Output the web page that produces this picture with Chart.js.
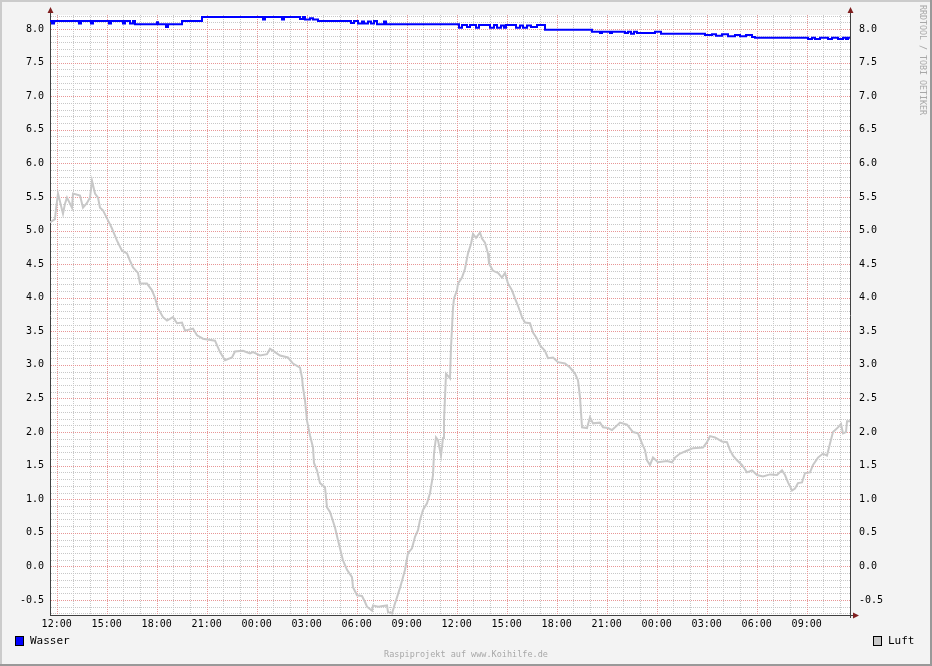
<!DOCTYPE html>
<html>
<head>
<meta charset="utf-8">
<script src="https://cdn.jsdelivr.net/npm/chart.js@4"></script>
<style>
  body { margin: 0; background: #f3f3f3; }
  canvas { display: block; }
</style>
</head>
<body>
<canvas id="rrdChart" width="932" height="666"></canvas>
<script>
// hours relative to 12:00 of the first day
var luftHours = [-0.4,-0.1,-0.04,0.08,0.38,0.5,0.62,0.92,0.98,1.4,1.58,1.82,2.0,2.12,2.3,2.48,2.6,2.78,3.02,3.32,
  3.62,3.92,4.22,4.4,4.58,4.88,5.0,5.42,5.72,5.9,6.08,6.38,6.62,6.98,7.22,7.52,7.7,8.18,8.42,8.78,
  9.5,9.8,10.1,10.52,10.7,11.18,11.6,11.78,12.2,12.62,12.8,13.1,13.4,13.88,14.18,14.6,14.72,14.78,14.9,15.02,
  15.2,15.38,15.44,15.62,15.8,16.1,16.22,16.4,16.7,16.88,17.0,17.18,17.42,17.72,17.78,18.02,18.32,18.5,18.62,18.92,
  18.98,19.28,19.82,19.88,20.12,20.3,20.42,20.6,20.78,20.9,21.08,21.32,21.5,21.68,21.8,21.98,22.22,22.4,22.58,22.64,
  22.76,22.88,23.06,23.18,23.24,23.36,23.6,23.66,23.78,23.84,24.02,24.08,24.32,24.5,24.68,24.86,24.98,25.16,25.4,25.52,
  25.7,25.88,25.94,26.18,26.48,26.72,26.9,27.08,27.32,27.5,27.68,27.92,28.1,28.4,28.58,28.82,29.0,29.3,29.48,29.78,
  30.08,30.5,30.8,31.1,31.28,31.4,31.52,31.82,32.0,32.18,32.6,32.78,33.08,33.32,33.5,33.8,34.22,34.58,34.88,35.12,
  35.3,35.42,35.6,35.78,36.08,36.62,36.92,37.1,37.4,37.88,38.18,38.78,39.02,39.2,39.5,39.92,40.22,40.4,40.58,40.82,
  41.12,41.42,41.72,42.02,42.38,42.8,43.22,43.52,43.7,43.88,44.12,44.3,44.48,44.72,44.9,45.2,45.38,45.68,45.98,46.22,
  46.4,46.58,46.88,47.06,47.18,47.36,47.42,47.6];
var luftValues = [5.12,5.17,5.32,5.55,5.25,5.40,5.49,5.34,5.55,5.52,5.34,5.41,5.49,5.74,5.55,5.49,5.34,5.30,5.18,5.03,
  4.85,4.70,4.66,4.55,4.45,4.37,4.21,4.21,4.11,4.00,3.84,3.71,3.66,3.71,3.62,3.63,3.51,3.54,3.44,3.39,
  3.36,3.19,3.07,3.11,3.20,3.21,3.17,3.19,3.14,3.16,3.24,3.19,3.14,3.11,3.02,2.96,2.81,2.66,2.47,2.17,
  1.95,1.77,1.54,1.43,1.24,1.18,0.88,0.81,0.58,0.39,0.27,0.09,-0.05,-0.16,-0.31,-0.43,-0.44,-0.53,-0.60,-0.66,
  -0.58,-0.60,-0.58,-0.68,-0.70,-0.55,-0.46,-0.32,-0.16,-0.05,0.20,0.27,0.44,0.54,0.69,0.84,0.94,1.09,1.36,1.68,
  1.92,1.88,1.65,1.91,2.17,2.87,2.80,3.26,3.85,3.99,4.11,4.21,4.30,4.43,4.66,4.80,4.95,4.89,4.97,4.88,
  4.82,4.66,4.51,4.40,4.37,4.30,4.37,4.21,4.11,3.99,3.88,3.71,3.63,3.62,3.48,3.39,3.29,3.21,3.10,3.11,
  3.04,3.02,2.96,2.87,2.77,2.52,2.07,2.06,2.22,2.13,2.14,2.07,2.06,2.03,2.07,2.14,2.11,2.00,1.98,1.83,
  1.73,1.58,1.51,1.62,1.55,1.57,1.55,1.62,1.68,1.73,1.76,1.77,1.85,1.94,1.92,1.86,1.85,1.73,1.65,1.58,
  1.51,1.40,1.43,1.36,1.34,1.37,1.36,1.43,1.36,1.25,1.13,1.16,1.24,1.25,1.39,1.40,1.51,1.62,1.68,1.65,
  1.83,2.00,2.07,2.12,1.98,2.00,2.16,2.16];

var wasserHours = [-0.4,-0.28,-0.16,1.34,1.46,2.06,2.18,3.14,3.26,3.98,4.1,4.4,4.58,4.7,6.02,6.08,6.56,6.68,7.52,8.72,
  12.38,12.5,13.52,13.64,14.6,14.78,14.9,15.2,15.38,15.68,17.66,17.84,18.08,18.32,18.44,18.68,18.86,19.04,19.22,19.64,
  19.76,24.14,24.32,24.62,24.8,25.16,25.34,26.0,26.24,26.42,26.66,26.84,26.96,27.56,27.8,27.98,28.22,28.46,28.82,29.3,
  32.12,32.6,32.72,33.2,33.32,34.1,34.28,34.46,34.64,34.82,35.9,36.26,38.9,39.32,39.56,39.92,40.28,40.7,41.0,41.36,
  41.72,41.9,45.08,45.32,45.5,45.8,46.28,46.52,46.88,47.18,47.36,47.48,47.6];
var wasserValues = [8.12,8.08,8.12,8.08,8.12,8.08,8.12,8.08,8.12,8.08,8.12,8.08,8.12,8.07,8.10,8.07,8.03,8.07,8.12,8.18,
  8.14,8.18,8.14,8.18,8.15,8.18,8.14,8.16,8.14,8.12,8.09,8.12,8.08,8.11,8.08,8.11,8.08,8.12,8.07,8.11,
  8.07,8.02,8.06,8.03,8.06,8.02,8.06,8.02,8.06,8.02,8.05,8.02,8.06,8.02,8.05,8.02,8.05,8.03,8.06,7.99,
  7.96,7.94,7.96,7.94,7.96,7.94,7.96,7.93,7.96,7.94,7.96,7.93,7.91,7.92,7.90,7.92,7.89,7.91,7.89,7.91,
  7.88,7.87,7.85,7.87,7.85,7.87,7.85,7.87,7.85,7.87,7.85,7.87,7.87];

var xTickHours = [0,3,6,9,12,15,18,21,24,27,30,33,36,39,42,45];
var yTickValues = [-0.5,0,0.5,1,1.5,2,2.5,3,3.5,4,4.5,5,5.5,6,6.5,7,7.5,8];

var xMin = -0.4, xMax = 47.6;
var yMin = -0.723, yMax = 8.208;

var gridColor = 'rgb(200,200,200)';
var mgridColor = 'rgb(232,150,150)';
var axisColor = '#404040';
var arrowColor = '#7f1f1f';
var monoFont = 'DejaVu Sans Mono';

function toPoints(xs, ys) {
  return xs.map(function (x, i) { return { x: x, y: ys[i] }; });
}

function hourLabel(v) {
  var h = ((12 + v) % 24 + 24) % 24;
  return (h < 10 ? '0' : '') + h + ':00';
}

// rrdtool style dotted grid, positioned with the chart's own scales
var rrdGrid = {
  id: 'rrdGrid',
  beforeDatasetsDraw: function (chart) {
    var c = chart.ctx, a = chart.chartArea;
    var xs = chart.scales.x, ys = chart.scales.y;
    function vline(v) {
      var p = Math.round(xs.getPixelForValue(v)) + 0.5;
      c.moveTo(p, a.top); c.lineTo(p, a.bottom);
    }
    function hline(v) {
      var p = Math.round(ys.getPixelForValue(v)) + 0.5;
      c.moveTo(a.left + 1, p); c.lineTo(a.right, p);
    }
    c.save();
    c.lineWidth = 1;
    c.setLineDash([1, 1]);
    c.strokeStyle = gridColor;
    c.beginPath();
    for (var h = 0; h <= 47; h++) if (h % 3 !== 0) vline(h);
    for (var k = -7; k <= 82; k++) if (k % 5 !== 0) hline(k / 10);
    c.stroke();
    c.strokeStyle = mgridColor;
    c.beginPath();
    xTickHours.forEach(vline);
    yTickValues.forEach(hline);
    c.stroke();
    c.restore();
  }
};

var rrdLook = {
  id: 'rrdLook',
  beforeDraw: function (chart) {
    var c = chart.ctx, a = chart.chartArea;
    c.save();
    c.fillStyle = '#f3f3f3';
    c.fillRect(0, 0, chart.width, chart.height);
    c.fillStyle = '#ffffff';
    c.fillRect(a.left, a.top, a.right - a.left, a.bottom - a.top);
    c.restore();
  },
  afterDraw: function (chart) {
    var c = chart.ctx, a = chart.chartArea;
    c.save();
    // axis extensions
    c.strokeStyle = axisColor;
    c.lineWidth = 1;
    c.beginPath();
    c.moveTo(a.left + 0.5, a.top); c.lineTo(a.left + 0.5, 12);
    c.moveTo(a.right + 0.5, a.top); c.lineTo(a.right + 0.5, 12);
    c.moveTo(a.right, a.bottom + 0.5); c.lineTo(854, a.bottom + 0.5);
    c.moveTo(a.right + 0.5, a.bottom); c.lineTo(a.right + 0.5, a.bottom + 3);
    c.stroke();
    // arrows
    c.fillStyle = arrowColor;
    c.beginPath();
    c.moveTo(a.left + 0.5, 7); c.lineTo(a.left - 2.5, 13); c.lineTo(a.left + 3.5, 13); c.closePath();
    c.moveTo(a.right + 0.5, 7); c.lineTo(a.right - 2.5, 13); c.lineTo(a.right + 3.5, 13); c.closePath();
    c.moveTo(859, a.bottom + 0.5); c.lineTo(853, a.bottom - 2.5); c.lineTo(853, a.bottom + 3.5); c.closePath();
    c.fill();

    // legend
    c.font = '11px ' + monoFont;
    c.textBaseline = 'middle';
    c.textAlign = 'left';
    c.lineWidth = 1;
    c.fillStyle = '#0000ff';
    c.fillRect(15, 636, 9, 10);
    c.strokeStyle = '#000000';
    c.strokeRect(15.5, 636.5, 8, 9);
    c.fillStyle = '#000000';
    c.fillText('Wasser', 30, 641);
    c.fillStyle = '#c8c8c8';
    c.fillRect(873, 636, 9, 10);
    c.strokeRect(873.5, 636.5, 8, 9);
    c.fillStyle = '#000000';
    c.fillText('Luft', 888, 641);

    // footer
    c.font = '8.5px ' + monoFont;
    c.fillStyle = '#a8a8a8';
    c.textAlign = 'center';
    c.fillText('Raspiprojekt auf www.Koihilfe.de', 466, 655);

    // watermark
    c.save();
    c.translate(922, 5);
    c.rotate(Math.PI / 2);
    c.textAlign = 'left';
    c.font = '8.3px ' + monoFont;
    c.fillStyle = '#a8a8a8';
    c.fillText('RRDTOOL / TOBI OETIKER', 0, 0);
    c.restore();

    // frame shading
    c.fillStyle = '#cbcbcb';
    c.fillRect(0, 0, chart.width, 2);
    c.fillRect(0, 0, 2, chart.height);
    c.fillStyle = '#999999';
    c.fillRect(0, chart.height - 2, chart.width, 2);
    c.fillRect(chart.width - 2, 0, 2, chart.height);
    c.restore();
  }
};

var ctx = document.getElementById('rrdChart').getContext('2d');
var myChart = new Chart(ctx, {
  type: 'line',
  data: {
    datasets: [{
      label: 'Luft',
      data: toPoints(luftHours, luftValues),
      borderColor: '#c8c8c8',
      borderWidth: 2,
      pointRadius: 0,
      tension: 0,
      fill: false
    }, {
      label: 'Wasser',
      data: toPoints(wasserHours, wasserValues),
      borderColor: '#0000ff',
      borderWidth: 2,
      pointRadius: 0,
      stepped: true,
      fill: false
    }]
  },
  options: {
    responsive: false,
    animation: false,
    devicePixelRatio: 1,
    layout: { padding: { top: 14, left: 0, right: 0, bottom: 0 } },
    plugins: { legend: { display: false }, tooltip: { enabled: false } },
    scales: {
      x: {
        type: 'linear', position: 'bottom', min: xMin, max: xMax,
        afterBuildTicks: function (s) { s.ticks = xTickHours.map(function (v) { return { value: v }; }); },
        afterFit: function (s) { s.height = 51; },
        grid: { display: false, drawTicks: false },
        border: { display: true, color: axisColor, width: 1 },
        ticks: {
          padding: 3, autoSkip: false, maxRotation: 0, color: '#000000',
          font: { family: monoFont, size: 10 },
          callback: function (v) { return hourLabel(v); }
        }
      },
      y: {
        type: 'linear', position: 'left', min: yMin, max: yMax,
        afterBuildTicks: function (s) { s.ticks = yTickValues.map(function (v) { return { value: v }; }); },
        afterFit: function (s) { s.width = 50; },
        grid: { display: false, drawTicks: false },
        border: { display: true, color: axisColor, width: 1 },
        ticks: {
          padding: 6, autoSkip: false, color: '#000000',
          font: { family: monoFont, size: 10 },
          callback: function (v) { return v.toFixed(1); }
        }
      },
      yRight: {
        type: 'linear', position: 'right', min: yMin, max: yMax,
        afterBuildTicks: function (s) { s.ticks = yTickValues.map(function (v) { return { value: v }; }); },
        afterFit: function (s) { s.width = 82; },
        grid: { display: false, drawTicks: false },
        border: { display: true, color: axisColor, width: 1 },
        ticks: {
          padding: 9, autoSkip: false, color: '#000000',
          font: { family: monoFont, size: 10 },
          callback: function (v) { return v.toFixed(1); }
        }
      }
    }
  },
  plugins: [rrdGrid, rrdLook]
});
</script>
</body>
</html>
